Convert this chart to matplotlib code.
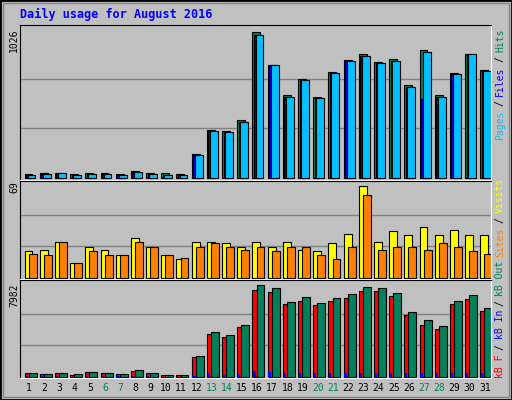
import matplotlib
matplotlib.use("Agg")
import matplotlib.pyplot as plt
from matplotlib.patches import Rectangle
import numpy as np

days = list(range(1, 32))
weekend = [6, 7, 13, 14, 20, 21, 27, 28]

hits = [30, 37, 37, 25, 37, 37, 30, 51, 37, 37, 30, 169, 335, 328, 407, 1026,
        792, 584, 695, 571, 744, 834, 875, 813, 841, 654, 903, 584, 737, 875, 758]
files = [23, 30, 37, 23, 30, 30, 23, 44, 30, 23, 23, 162, 328, 321, 397, 1007,
         792, 571, 688, 564, 737, 827, 862, 806, 827, 640, 557, 571, 730, 875, 751]
pages = [23, 30, 37, 23, 30, 30, 23, 44, 30, 23, 23, 162, 328, 321, 397, 1007,
         792, 571, 688, 564, 737, 827, 862, 806, 827, 640, 889, 571, 730, 875, 751]

visits = [20, 21, 27, 11, 23, 21, 17, 30, 23, 17, 14, 27, 27, 26, 23, 27,
          23, 27, 21, 20, 26, 33, 69, 27, 35, 32, 38, 32, 36, 32, 32]
sites = [18, 17, 27, 11, 20, 17, 17, 27, 23, 17, 15, 23, 26, 23, 21, 23,
         20, 23, 23, 17, 14, 23, 62, 21, 23, 23, 21, 26, 23, 20, 18]

kb_f = [291, 204, 291, 117, 379, 291, 204, 466, 291, 117, 117, 1690, 3700, 3437,
        4311, 7545, 7370, 6321, 6584, 6234, 6584, 6846, 7458, 7458, 7021, 5360,
        4486, 4137, 6321, 6758, 5710]
kb_in = [20, 15, 20, 10, 25, 20, 15, 30, 20, 10, 10, 60, 200, 180, 230, 480,
         400, 300, 330, 290, 330, 340, 340, 340, 330, 300, 300, 290, 330, 330, 300]
kb_out = [291, 204, 291, 204, 379, 291, 204, 553, 291, 117, 117, 1777, 3874, 3612,
          4486, 7982, 7720, 6496, 6933, 6409, 6846, 7195, 7807, 7720, 7283, 5622,
          4923, 4399, 6584, 7108, 5972]

BG = "#c0c0c0"
C_HITS, C_FILES, C_PAGES = "#00805c", "#0000ff", "#00c0ff"
C_VIS, C_SITES = "#ffff00", "#ff8000"
C_KBF, C_KBIN, C_KBOUT = "#ff0000", "#0000ff", "#00805c"

W, H = 512, 400
fig = plt.figure(figsize=(W / 100, H / 100), dpi=100, facecolor=BG)
mono = "DejaVu Sans Mono"

# outer frame
fig.patches.append(Rectangle((0, 0), 1, 1, transform=fig.transFigure, fill=False,
                             edgecolor="black", lw=2))
fig.patches.append(Rectangle((3 / W, 3 / H), 1 - 6 / W, 1 - 6 / H, transform=fig.transFigure,
                             fill=False, edgecolor="#808080", lw=1))

fig.text(20 / W, 1 - 14 / H, "Daily usage for August 2016", color="#0000ff",
         family=mono, fontweight="bold", fontsize=8.5, va="center")

x = np.arange(31)
bw = 0.52


def panel(top, bottom, series, offsets, colors, vmax):
    ax = fig.add_axes([20 / W, 1 - bottom / H, 471 / W, (bottom - top) / H])
    ax.set_facecolor(BG)
    ax.set_xlim(0, 31)
    ax.set_ylim(-vmax * 0.015, vmax * 1.05)
    for g in (vmax * 0.34, vmax * 0.68):
        ax.axhline(g, color="#808080", lw=1, zorder=0)
    for vals, off, c in zip(series, offsets, colors):
        ax.bar(x + off, vals, width=bw, align="edge", color=c, edgecolor="black",
               lw=0.8, zorder=2)
    ax.set_xticks([]); ax.set_yticks([])
    for s in ("left", "top"):
        ax.spines[s].set_color("black")
    for s in ("right", "bottom"):
        ax.spines[s].set_color("white")
    return ax


panel(25, 180, [hits, files, pages], [0.3, 0.4, 0.5], [C_HITS, C_FILES, C_PAGES], max(hits))
panel(181, 279, [visits, sites], [0.3, 0.57], [C_VIS, C_SITES], max(visits))
ax3 = panel(280, 378, [kb_f, kb_out], [0.3, 0.57], [C_KBF, C_KBOUT], max(kb_out))
ax3.bar(x + 0.35, kb_in, width=0.15, align="edge", color=C_KBIN, lw=0, zorder=3)

# day labels
for d in days:
    xp = (20 + (d - 1 + 0.6) * 471 / 31) / W
    fig.text(xp, 1 - 388 / H, str(d), ha="center", va="center", family=mono,
             fontsize=7, color="#00805c" if d in weekend else "black")

# left max labels
for txt, y in (("1026", 40), ("69", 187), ("7982", 295)):
    fig.text(14 / W, 1 - y / H, txt, rotation=90, ha="center", va="center",
             family=mono, fontsize=7)


def stacked(y_bottom, parts):
    cw = 5.5
    i = 0
    for s, c in parts:
        yc = y_bottom - (i + len(s) / 2) * cw
        fig.text(500 / W, 1 - yc / H, s.strip(), rotation=90, ha="center", va="center",
                 family=mono, fontsize=7, color=c)
        i += len(s)


stacked(139, [("Pages", C_PAGES), (" / ", "black"), ("Files", C_FILES),
              (" / ", "black"), ("Hits", C_HITS)])
stacked(377, [("kB F", C_KBF), (" / ", "black"), ("kB In", C_KBIN), (" / ", "black"),
              ("kB Out", C_KBOUT), (" ", "black"), ("Sites", C_SITES), (" / ", "black"),
              ("Visits", C_VIS)])

fig.savefig("out.png", dpi=100, facecolor=BG)
